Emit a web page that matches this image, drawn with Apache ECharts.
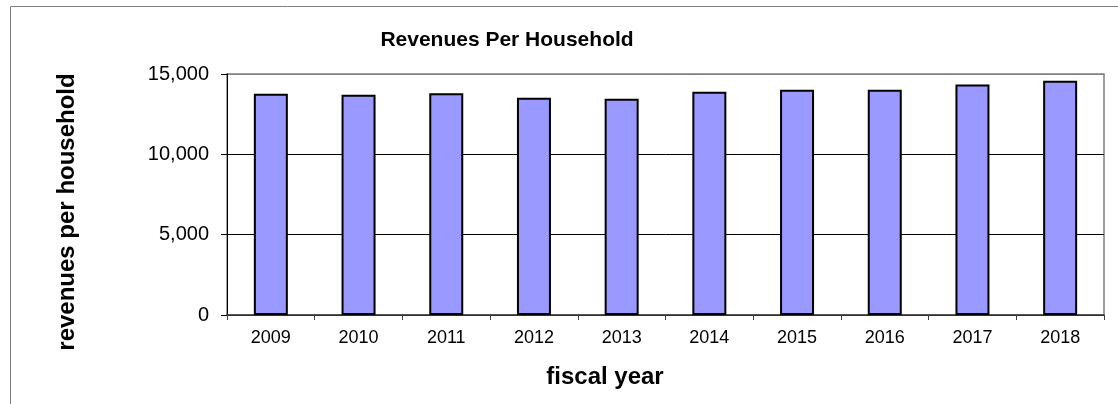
<!DOCTYPE html>
<html>
<head>
<meta charset="utf-8">
<script src="https://cdn.jsdelivr.net/npm/echarts@6/dist/echarts.min.js"></script>
<style>
  html, body { margin: 0; padding: 0; background: #fff; }
  #chart { width: 1118px; height: 404px; }
</style>
</head>
<body>
<div id="chart"></div>
<script>
// Fiscal years and revenue per household
const years = ['2009', '2010', '2011', '2012', '2013', '2014', '2015', '2016', '2017', '2018'];
const revenues = [13770, 13710, 13800, 13520, 13460, 13890, 14020, 14020, 14350, 14580];
const yTicks = [0, 5000, 10000, 15000];

const FONT = '"Liberation Sans", Arial, sans-serif';
const fmt = v => v.toLocaleString('en-US');

const chart = echarts.init(document.getElementById('chart'), null, { renderer: 'canvas' });
chart.setOption({
  animation: false,
  backgroundColor: '#fff',
  title: {
    text: 'Revenues Per Household',
    left: 502, top: 25, textAlign: 'center',
    textStyle: { fontFamily: FONT, fontSize: 21, fontWeight: 'bold', color: '#000' }
  },
  graphic: [
    {
      // outer frame
      type: 'rect',
      shape: { x: 10.5, y: 6.5, width: 1200, height: 500 },
      style: { fill: null, stroke: '#808080', lineWidth: 1 },
      z: -10
    },
    {
      type: 'text',
      x: 605, y: 377,
      style: {
        text: 'fiscal year', textAlign: 'center', textVerticalAlign: 'middle',
        font: 'bold 24px ' + FONT, fill: '#000'
      }
    },
    {
      type: 'text',
      x: 67, y: 212, rotation: Math.PI / 2,
      style: {
        text: 'revenues per household', textAlign: 'center', textVerticalAlign: 'middle',
        font: 'bold 24px ' + FONT, fill: '#000'
      }
    }
  ],
  grid: {
    left: 227, right: 14, top: 74, bottom: 89,
    show: true, borderColor: '#808080', borderWidth: 1.5, backgroundColor: '#fff'
  },
  xAxis: {
    type: 'category',
    data: years,
    axisLine: { lineStyle: { color: '#404040', width: 1.5 } },
    axisTick: { show: true, length: 5, lineStyle: { color: '#404040' } },
    axisLabel: { fontFamily: FONT, fontSize: 18, color: '#000', margin: 14 },
    splitLine: { show: false }
  },
  yAxis: {
    type: 'value',
    min: yTicks[0], max: yTicks[yTicks.length - 1], interval: 5000,
    axisLine: { show: true, lineStyle: { color: '#000', width: 1 } },
    axisTick: { show: true, length: 6, lineStyle: { color: '#000' } },
    axisLabel: { fontFamily: FONT, fontSize: 20, color: '#000', margin: 18, formatter: fmt },
    splitLine: { show: true, lineStyle: { color: ['#000', '#000', '#000', '#808080'], width: 1 } }
  },
  series: [{
    type: 'bar',
    data: revenues,
    barWidth: 34,
    itemStyle: { color: '#9999FF', borderColor: '#000', borderWidth: 2 }
  }]
});
</script>
</body>
</html>
